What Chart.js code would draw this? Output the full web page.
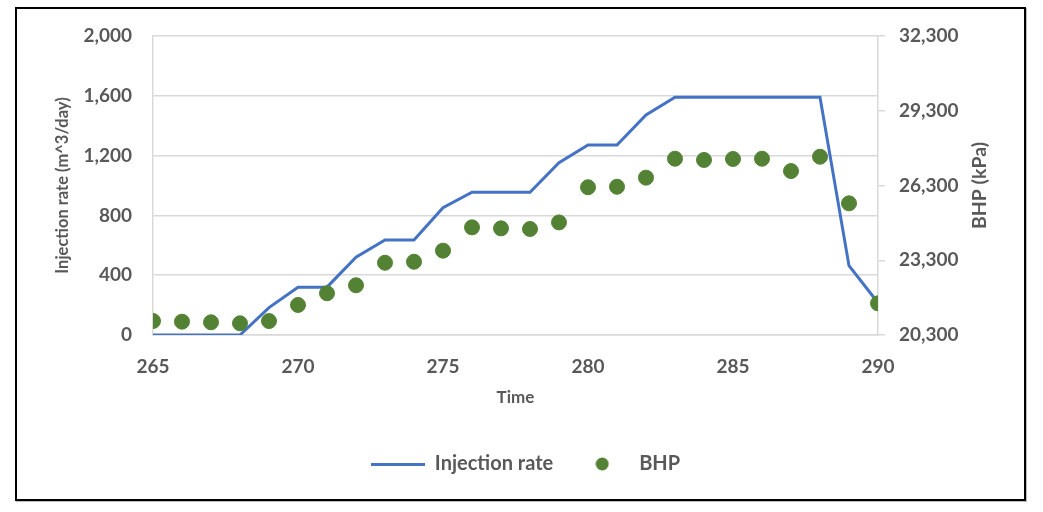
<!DOCTYPE html>
<html>
<head>
<meta charset="utf-8">
<script src="https://cdn.jsdelivr.net/npm/chart.js@4.4.1/dist/chart.umd.min.js"></script>
<style>
	body { margin: 0; background: #fff; }
	#box {
		position: absolute; left: 15px; top: 7px;
		width: 1007px; height: 490px;
		border: 2px solid #000;
		box-shadow: 1px 1px 0 #bbb;
	}
</style>
</head>
<body>
<div id="box"><canvas id="myChart"></canvas></div>
<script>
	// values
	var times = [265, 266, 267, 268, 269, 270, 271, 272, 273, 274, 275, 276, 277,
		278, 279, 280, 281, 282, 283, 284, 285, 286, 287, 288, 289, 290];
	var injectionRate = [0, 0, 0, 0, 183, 320, 320, 520, 635, 635, 851, 955, 955,
		955, 1152, 1271, 1271, 1472, 1590, 1590, 1590, 1590, 1590, 1590, 464, 216];
	var bhp = [20860, 20835, 20810, 20770, 20860, 21505, 21975, 22295, 23200, 23240, 23685, 24620, 24580,
		24555, 24820, 26230, 26250, 26615, 27375, 27325, 27365, 27375, 26880, 27455, 25585, 21570];
	var seriesNames = ["Injection rate", "BHP"];

	var textColor = "#595959";
	var gridColor = "#d9d9d9";
	var lineColor = "#4472C4";
	var dotColor = "#548235";
	Chart.defaults.font.family = "Lato, 'Open Sans', sans-serif";
	Chart.defaults.color = textColor;

	// legend icons (line 54px wide, dot)
	var lineIcon = document.createElement("canvas");
	lineIcon.width = 54; lineIcon.height = 3;
	var lc = lineIcon.getContext("2d");
	lc.fillStyle = lineColor; lc.fillRect(0, 0, 54, 3);
	var dotIcon = document.createElement("canvas");
	dotIcon.width = 14; dotIcon.height = 14;
	var dc = dotIcon.getContext("2d");
	dc.fillStyle = dotColor; dc.beginPath(); dc.arc(7, 7, 6.5, 0, Math.PI * 2); dc.fill();

	var rightTitle = {
		id: "rightTitle",
		afterDraw: function(chart) {
			var ctx = chart.ctx, a = chart.chartArea;
			ctx.save();
			ctx.translate(963, (a.top + a.bottom) / 2);
			ctx.rotate(-Math.PI / 2);
			ctx.fillStyle = textColor;
			ctx.font = "bold 19.5px Lato, 'Open Sans', sans-serif";
			ctx.textAlign = "center";
			ctx.textBaseline = "middle";
			ctx.fillText("BHP (kPa)", 0, 0);
			ctx.restore();
		}
	};

	var ctx = document.getElementById("myChart").getContext("2d");
	var myChart = new Chart(ctx, {
		data: {
			datasets: [{
				type: "line",
				label: seriesNames[0],
				data: times.map((t, i) => ({ x: t, y: injectionRate[i] })),
				borderColor: lineColor,
				backgroundColor: lineColor,
				borderWidth: 3,
				pointRadius: 0,
				tension: 0,
				yAxisID: "y",
				order: 1
			}, {
				type: "scatter",
				label: seriesNames[1],
				data: times.map((t, i) => ({ x: t, y: bhp[i] })),
				backgroundColor: dotColor,
				borderColor: dotColor,
				pointRadius: 7.5,
				yAxisID: "y1",
				order: 0
			}]
		},
		options: {
			responsive: true,
			maintainAspectRatio: false,
			animation: false,
			layout: { padding: { left: 10, right: 0, top: 27, bottom: 15 } },
			plugins: {
				tooltip: { enabled: false },
				legend: {
					position: "bottom",
					labels: {
						usePointStyle: true,
						pointStyleWidth: 54,
						padding: 22,
						color: textColor,
						font: { size: 20, weight: "bold" },
						sort: (a, b) => a.datasetIndex - b.datasetIndex,
						generateLabels: function(chart) {
							var items = Chart.defaults.plugins.legend.labels.generateLabels(chart);
							items.forEach(it => { it.pointStyle = it.datasetIndex == 0 ? lineIcon : dotIcon; });
							return items;
						}
					}
				}
			},
			scales: {
				x: {
					type: "linear",
					min: 265, max: 290,
					ticks: { stepSize: 5, padding: 20, font: { size: 19, weight: "bold" } },
					grid: { display: false, drawTicks: false },
					border: { color: gridColor, width: 1.5 },
					title: { display: true, text: "Time", font: { size: 17, weight: "bold" }, padding: { bottom: 24 } },
					afterFit: function(s) { s.height = 97; }
				},
				y: {
					position: "left",
					min: 0, max: 2000,
					ticks: { stepSize: 400, padding: 21, font: { size: 19, weight: "bold" } },
					grid: { color: gridColor, lineWidth: 1.5, drawTicks: false },
					border: { color: gridColor, width: 1.5 },
					title: { display: true, text: "Injection rate (m^3/day)", font: { size: 16.5, weight: "bold" }, padding: { top: 26 } },
					afterFit: function(s) { s.width = 126; s.paddingTop = 10; }
				},
				y1: {
					position: "right",
					min: 20300, max: 32300,
					ticks: { stepSize: 3000, padding: 14, font: { size: 19, weight: "bold" } },
					grid: { drawOnChartArea: false, color: gridColor, lineWidth: 1.5, tickLength: 7 },
					border: { color: gridColor, width: 1.5 },
					afterFit: function(s) { s.width = 146; s.paddingTop = 10; }
				}
			}
		},
		plugins: [rightTitle]
	});
</script>
</body>
</html>
